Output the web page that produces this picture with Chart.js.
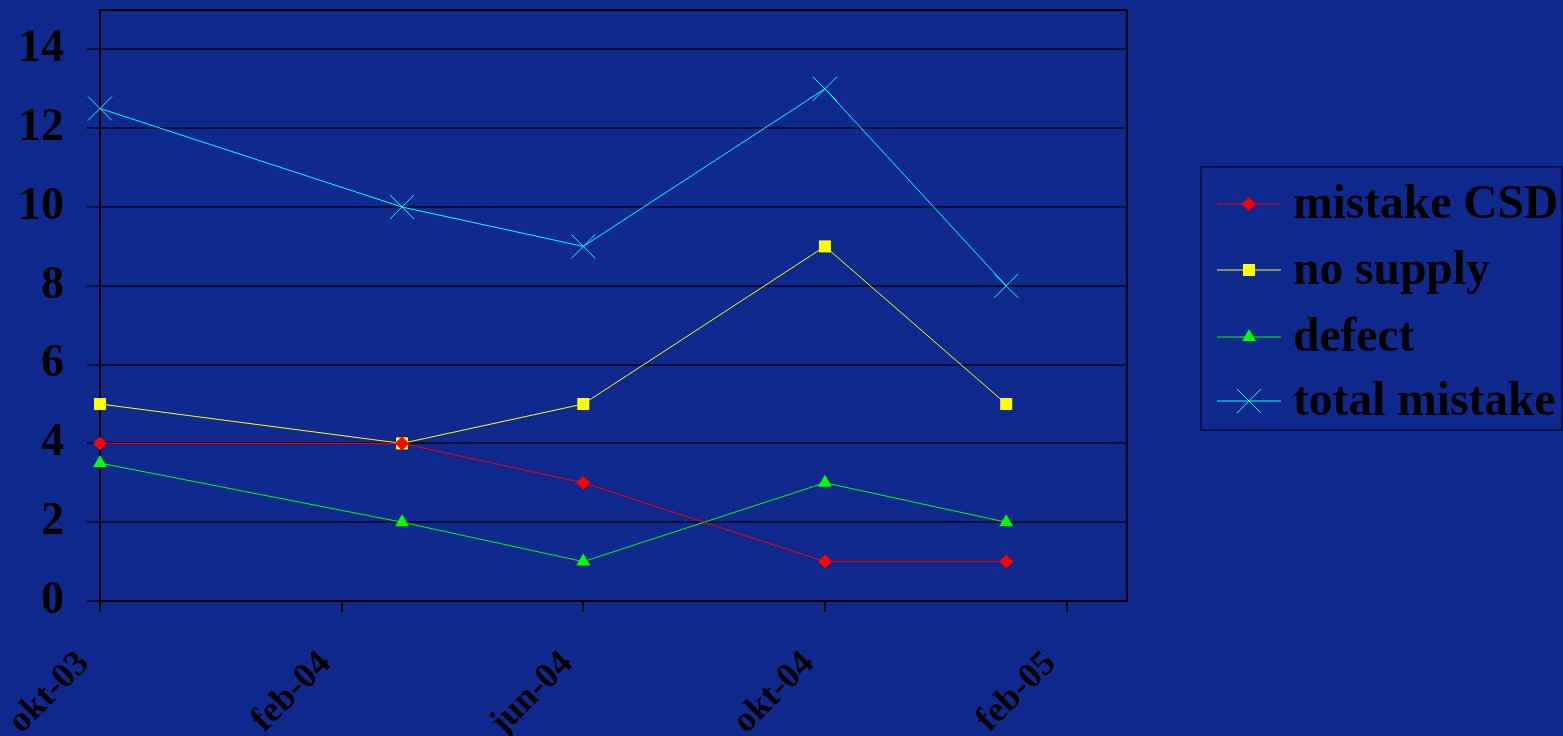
<!DOCTYPE html>
<html>
<head>
<meta charset="utf-8">
<script src="https://cdn.jsdelivr.net/npm/chart.js@4/dist/chart.umd.min.js"></script>
<style>
  html, body { margin: 0; padding: 0; background: #10298F; }
  #wrap { width: 1563px; height: 736px; }
</style>
</head>
<body>
<div id="wrap"><canvas id="c" width="1563" height="736"></canvas></div>
<script>
// Month index counted from okt-03 (0)
const tickPositions = [0, 4, 8, 12, 16];
const tickLabels = ['okt-03', 'feb-04', 'jun-04', 'okt-04', 'feb-05'];
const pointMonths = [0, 5, 8, 12, 15];
const mistakeCSD = [4, 4, 3, 1, 1];
const noSupply = [5, 4, 5, 9, 5];
const defect = [3.5, 2, 1, 3, 2];
const totalMistake = [12.5, 10, 9, 13, 8];
const yTicks = [0, 2, 4, 6, 8, 10, 12, 14];
const seriesNames = ['mistake CSD', 'no supply', 'defect', 'total mistake'];

const FONT = '"Liberation Serif", "Times New Roman", serif';

function pts(vals) { return vals.map((v, i) => ({ x: pointMonths[i], y: v })); }

const datasets = [
  { label: seriesNames[0], data: pts(mistakeCSD), borderColor: '#ff0000', backgroundColor: '#ff0000',
    pointStyle: 'rectRot', pointRadius: 6.5, pointBorderWidth: 1 },
  { label: seriesNames[1], data: pts(noSupply), borderColor: '#ffff00', backgroundColor: '#ffff00',
    pointStyle: 'rect', pointRadius: 8.5, pointBorderWidth: 0 },
  { label: seriesNames[2], data: pts(defect), borderColor: '#00ff00', backgroundColor: '#00ff00',
    pointStyle: 'triangle', pointRadius: 8, pointBorderWidth: 0 },
  { label: seriesNames[3], data: pts(totalMistake), borderColor: '#00ffff', backgroundColor: '#00ffff',
    pointStyle: 'crossRot', pointRadius: 17, pointBorderWidth: 1 }
].map(d => Object.assign({ borderWidth: 1, tension: 0, fill: false, clip: false, pointHoverRadius: d.pointRadius }, d));

const framePlugin = {
  id: 'frame',
  beforeDatasetsDraw(chart) {
    const { ctx, chartArea: a } = chart;
    ctx.save();
    ctx.strokeStyle = '#000000';
    ctx.lineWidth = 2;
    ctx.beginPath();
    ctx.moveTo(a.left, a.top);
    ctx.lineTo(a.right, a.top);
    ctx.lineTo(a.right, a.bottom);
    ctx.stroke();
    ctx.restore();
  }
};

const legendPlugin = {
  id: 'boxLegend',
  afterDraw(chart) {
    const ctx = chart.ctx;
    const bx = 1201, by = 167, bw = 361, bh = 263;
    ctx.save();
    ctx.strokeStyle = '#0a1440';
    ctx.lineWidth = 2;
    ctx.strokeRect(bx, by, bw, bh);
    const rows = [204, 270, 337, 401];
    ctx.font = 'bold 47.5px ' + FONT;
    ctx.textBaseline = 'middle';
    ctx.textAlign = 'left';
    chart.data.datasets.forEach((ds, i) => {
      const y = rows[i];
      ctx.strokeStyle = ds.borderColor;
      ctx.lineWidth = 1;
      ctx.beginPath();
      ctx.moveTo(1217, y);
      ctx.lineTo(1281, y);
      ctx.stroke();
      ctx.fillStyle = ds.backgroundColor;
      ctx.strokeStyle = ds.borderColor;
      ctx.lineWidth = ds.pointBorderWidth || 1;
      Chart.helpers.drawPoint(ctx, { pointStyle: ds.pointStyle, radius: ds.pointRadius, rotation: 0, borderWidth: ds.pointBorderWidth }, 1249, y);
      ctx.fillStyle = '#000000';
      ctx.fillText(ds.label, 1293, y + 2);
    });
    ctx.restore();
  }
};

new Chart(document.getElementById('c'), {
  type: 'line',
  data: { datasets },
  plugins: [framePlugin, legendPlugin],
  options: {
    responsive: false,
    animation: false,
    events: [],
    layout: { autoPadding: false, padding: { top: 10, right: 436, left: 0, bottom: 0 } },
    plugins: { legend: { display: false }, tooltip: { enabled: false } },
    scales: {
      x: {
        type: 'linear', min: 0, max: 17,
        afterBuildTicks(s) { s.ticks = tickPositions.map(v => ({ value: v })); },
        afterFit(s) { s.height = 135; s.paddingLeft = 0; s.paddingRight = 0; },
        grid: { drawOnChartArea: false, drawTicks: true, tickLength: 11, color: '#000000', lineWidth: 2 },
        border: { display: true, color: '#000000', width: 2 },
        ticks: {
          autoSkip: false, minRotation: 45, maxRotation: 45, padding: 31, labelOffset: -16,
          color: '#000000', font: { family: FONT, size: 36, weight: 'bold' },
          callback(v) { const i = tickPositions.indexOf(v); return i >= 0 ? tickLabels[i] : ''; }
        }
      },
      y: {
        type: 'linear', min: 0, max: 15,
        afterBuildTicks(s) { s.ticks = yTicks.map(v => ({ value: v })); },
        afterFit(s) { s.width = 100; s.paddingTop = 0; s.paddingBottom = 0; },
        grid: { color: '#050c35', lineWidth: 2, tickLength: 13, drawTicks: true },
        border: { display: true, color: '#000000', width: 2 },
        ticks: { color: '#000000', padding: 23, font: { family: FONT, size: 46, weight: 'bold' } }
      }
    }
  }
});
</script>
</body>
</html>
